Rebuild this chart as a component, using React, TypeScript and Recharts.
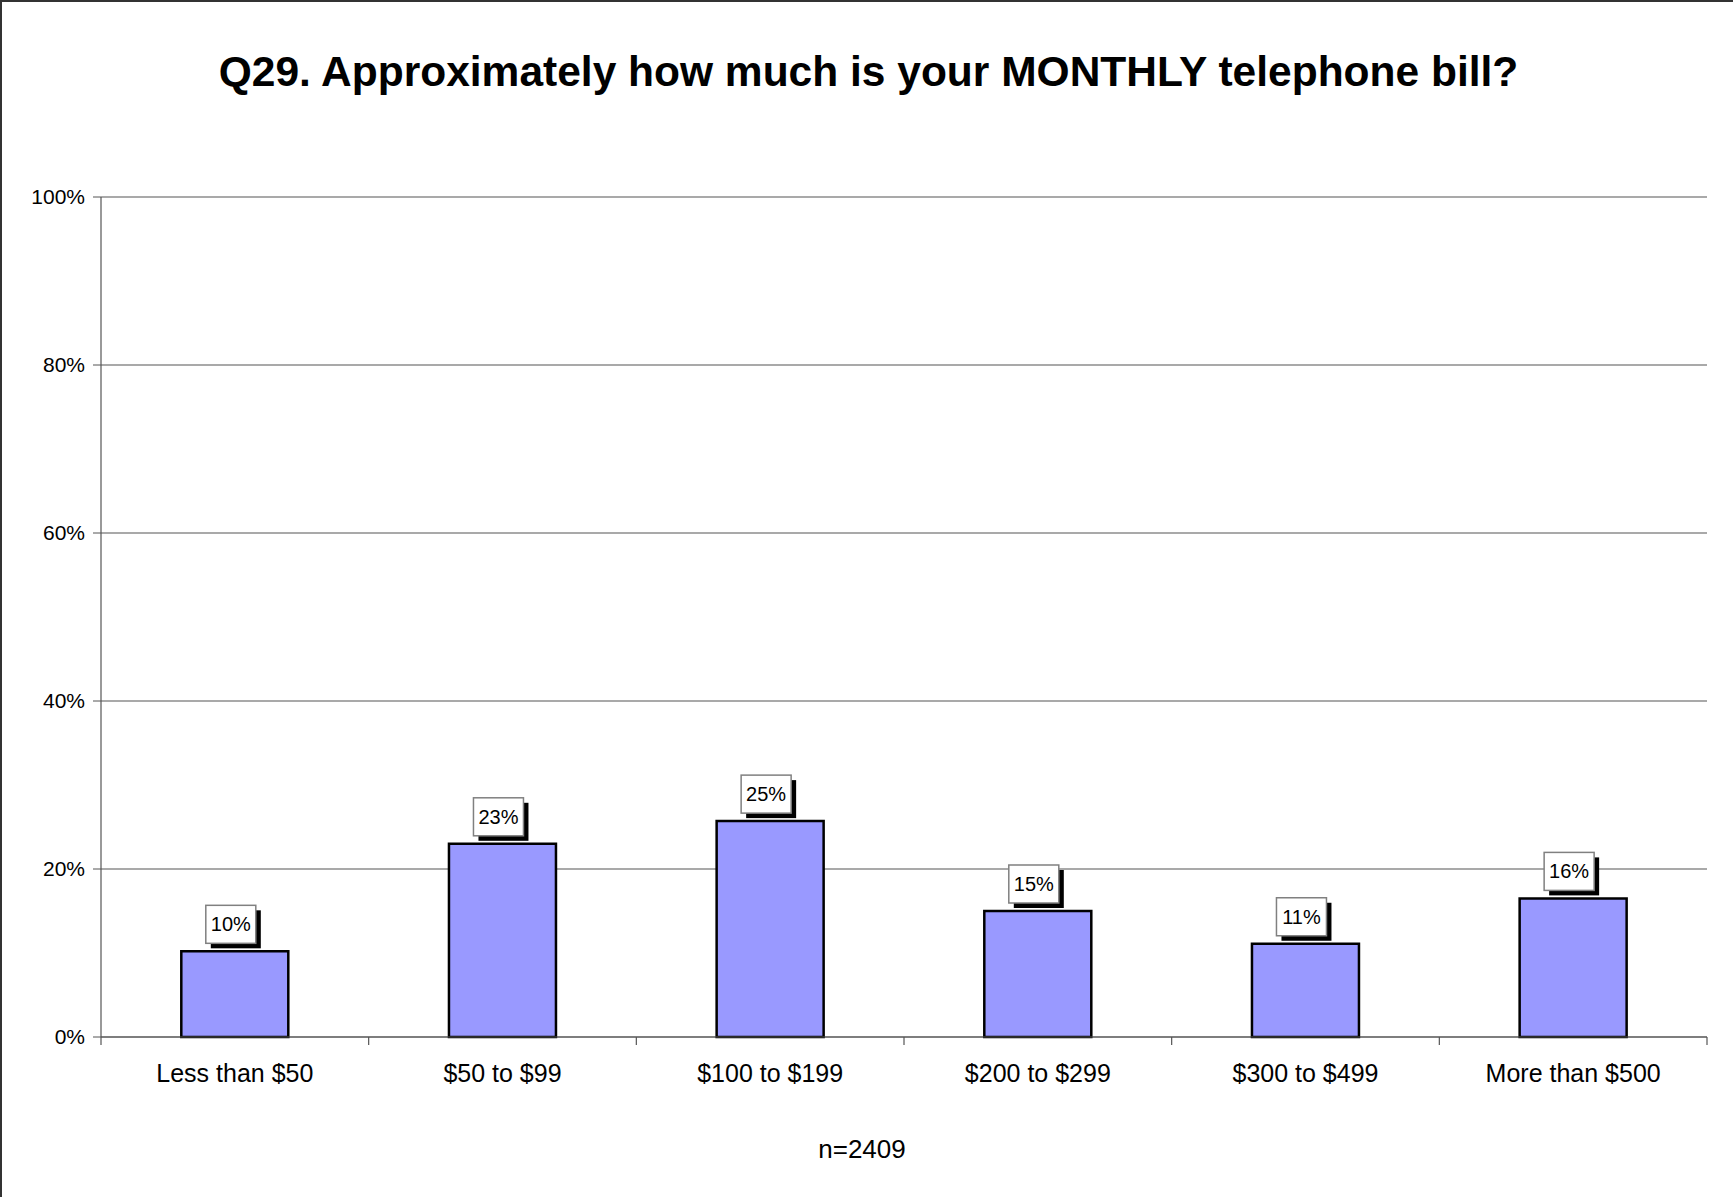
import { Bar, BarChart, CartesianGrid, LabelList, XAxis, YAxis } from "recharts";

const CATEGORIES = [
  "Less than $50",
  "$50 to $99",
  "$100 to $199",
  "$200 to $299",
  "$300 to $499",
  "More than $500",
];
const SHARES = [10.2, 23.0, 25.7, 15.0, 11.1, 16.5];
const SHARE_LABELS = ["10%", "23%", "25%", "15%", "11%", "16%"];
const Y_TICKS = [0, 20, 40, 60, 80, 100];
const BOUNDARY_TICKS = [0, 1, 2, 3, 4, 5, 6];

const TITLE = "Q29. Approximately how much is your MONTHLY telephone bill?";
const FOOTNOTE = "n=2409";

const data = CATEGORIES.map((name, i) => ({
  name,
  share: SHARES[i],
  label: SHARE_LABELS[i],
  pos: i + 0.5,
}));

const FONT = "'Liberation Sans', Arial, sans-serif";

// boxed value label with a black drop shadow, like the old Excel style
function BoxLabel(props: any) {
  const { x, y, width, index } = props;
  const w = 50;
  const h = 38;
  const cx = x + width / 2 - 4;
  const bottom = y - 8;
  return (
    <g>
      <rect x={cx - w / 2 + 5} y={bottom - h + 5} width={w} height={h} fill="#000" />
      <rect
        x={cx - w / 2}
        y={bottom - h}
        width={w}
        height={h}
        fill="#fff"
        stroke="#808080"
        strokeWidth={1.5}
      />
      <text
        x={cx}
        y={bottom - h / 2}
        textAnchor="middle"
        dominantBaseline="central"
        fontSize={20}
        fontFamily={FONT}
        fill="#000"
      >
        {SHARE_LABELS[index]}
      </text>
    </g>
  );
}

// short tick mark below the axis at each category boundary
// (tick y arrives already pushed down by tickSize + tickMargin)
function BoundTick(props: any) {
  const { x, y } = props;
  return <line x1={x} x2={x} y1={y - 8} y2={y} stroke="#555" strokeWidth={1.2} />;
}

export default function App() {
  return (
    <div
      style={{
        position: "absolute",
        left: 0,
        top: 0,
        width: 1733,
        height: 1197,
        background: "#fff",
        borderTop: "2px solid #333",
        borderLeft: "2px solid #333",
        boxSizing: "border-box",
        fontFamily: FONT,
      }}
    >
      <div
        style={{
          position: "absolute",
          left: 0,
          width: 1733,
          top: 44,
          textAlign: "center",
          fontSize: 42.5,
          fontWeight: "bold",
          lineHeight: "52px",
          color: "#000",
        }}
      >
        {TITLE}
      </div>
      <div style={{ position: "absolute", left: -2, top: -2 }}>
        <BarChart
          width={1733}
          height={1197}
          data={data}
          margin={{ top: 197, right: 26, left: 0, bottom: 99 }}
          barCategoryGap="30%"
        >
          <CartesianGrid
            vertical={false}
            stroke="#555"
            strokeWidth={1.2}
            xAxisId="bounds"
          />
          <XAxis
            xAxisId="bounds"
            dataKey="pos"
            type="number"
            domain={[0, 6]}
            allowDataOverflow
            ticks={BOUNDARY_TICKS}
            tick={<BoundTick />}
            tickLine={false}
            tickSize={6}
            tickMargin={2}
            height={1}
            axisLine={{ stroke: "#555", strokeWidth: 1.2 }}
          />
          <XAxis
            xAxisId="cat"
            dataKey="name"
            type="category"
            height={60}
            axisLine={false}
            tickLine={false}
            tickSize={0}
            tickMargin={26}
            interval={0}
            tick={{ fontSize: 25, fill: "#000", fontFamily: FONT }}
          />
          <YAxis
            domain={[0, 100]}
            ticks={Y_TICKS}
            width={101}
            tickSize={8}
            tickMargin={8}
            tickFormatter={(v) => `${v}%`}
            axisLine={{ stroke: "#555", strokeWidth: 1.2 }}
            tickLine={{ stroke: "#555" }}
            tick={{ fontSize: 21, fill: "#000", fontFamily: FONT }}
          />
          <Bar
            dataKey="share"
            xAxisId="cat"
            fill="#9999FF"
            stroke="#000"
            strokeWidth={2.5}
            isAnimationActive={false}
          >
            <LabelList dataKey="label" content={<BoxLabel />} />
          </Bar>
        </BarChart>
      </div>
      <div
        style={{
          position: "absolute",
          left: 0,
          width: 1720,
          top: 1131,
          textAlign: "center",
          fontSize: 26,
          lineHeight: "32px",
          color: "#000",
        }}
      >
        {FOOTNOTE}
      </div>
    </div>
  );
}
